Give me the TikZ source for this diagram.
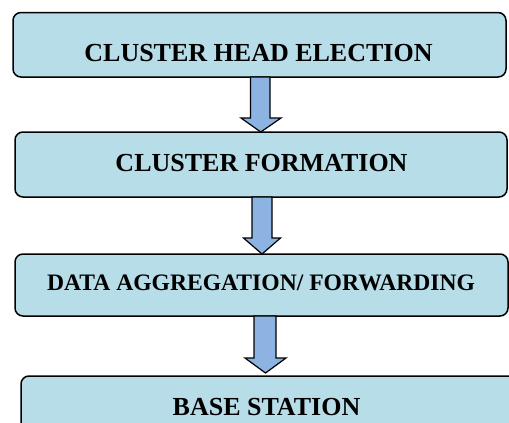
\documentclass[tikz,border=0pt]{standalone}
\usepackage{fontspec}
\setmainfont{Liberation Serif}
\usetikzlibrary{calc}
\definecolor{boxfill}{HTML}{B7DDE8}
\definecolor{arrowfill}{HTML}{8DB3E2}
\tikzset{
  stagebox/.style={draw=black, line width=1.5pt, fill=boxfill, rounded corners=8pt,
    inner sep=0pt, outer sep=0pt},
  stagelabel/.style={anchor=base, inner sep=0pt, font=\bfseries\fontsize{26}{30}\selectfont},
  flowarrow/.style={draw=black, line width=1.2pt, fill=arrowfill, line join=miter}
}
\begin{document}
\begin{tikzpicture}[x=1pt,y=-1pt]
  \useasboundingbox (0,0) rectangle (509,423);
  \clip (0,0) rectangle (509,423);

  % stage boxes
  \node[stagebox, minimum width=493pt, minimum height=64.5pt] (b1) at (259.5,44.75) {};
  \node[stagebox, minimum width=492pt, minimum height=65pt]   (b2) at (261,164.5) {};
  \node[stagebox, minimum width=493pt, minimum height=62pt]   (b3) at (261.5,285) {};
  \node[stagebox, minimum width=499pt, minimum height=70pt]   (b4) at (270.5,411) {};

  % stage titles
  \node[stagelabel] (t1) at (258.5,61) {CLUSTER HEAD ELECTION};
  \node[stagelabel] (t2) at (261.5,171.7) {CLUSTER FORMATION};
  \node[stagelabel, font=\bfseries\fontsize{23.6}{28}\selectfont] (t3) at (261,290) {DATA AGGREGATION/ FORWARDING};
  \node[stagelabel] (t4) at (266.5,415) {BASE STATION};

  % block arrows between the stages: shaft from the upper box, tip on the lower box
  \draw[flowarrow] let \p1=(b1.south), \p2=(b2.north) in
    (250.5pt,\y1) -- (270pt,\y1) -- (270pt,\y2+14pt) -- (281pt,\y2+14pt)
    -- (260.75pt,\y2) -- (241pt,\y2+14pt) -- (250.5pt,\y2+14pt) -- cycle;
  \draw[flowarrow] let \p1=(b2.south), \p2=(b3.north) in
    (252pt,\y1) -- (272pt,\y1) -- (272pt,\y2+16pt) -- (280.5pt,\y2+16pt)
    -- (262pt,\y2) -- (243.5pt,\y2+16pt) -- (252pt,\y2+16pt) -- cycle;
  \draw[flowarrow] let \p1=(b3.south), \p2=(b4.north) in
    (254pt,\y1) -- (276pt,\y1) -- (276pt,\y2+18pt) -- (286pt,\y2+18pt)
    -- (265.5pt,\y2+3pt) -- (245pt,\y2+18pt) -- (254pt,\y2+18pt) -- cycle;
\end{tikzpicture}
\end{document}
